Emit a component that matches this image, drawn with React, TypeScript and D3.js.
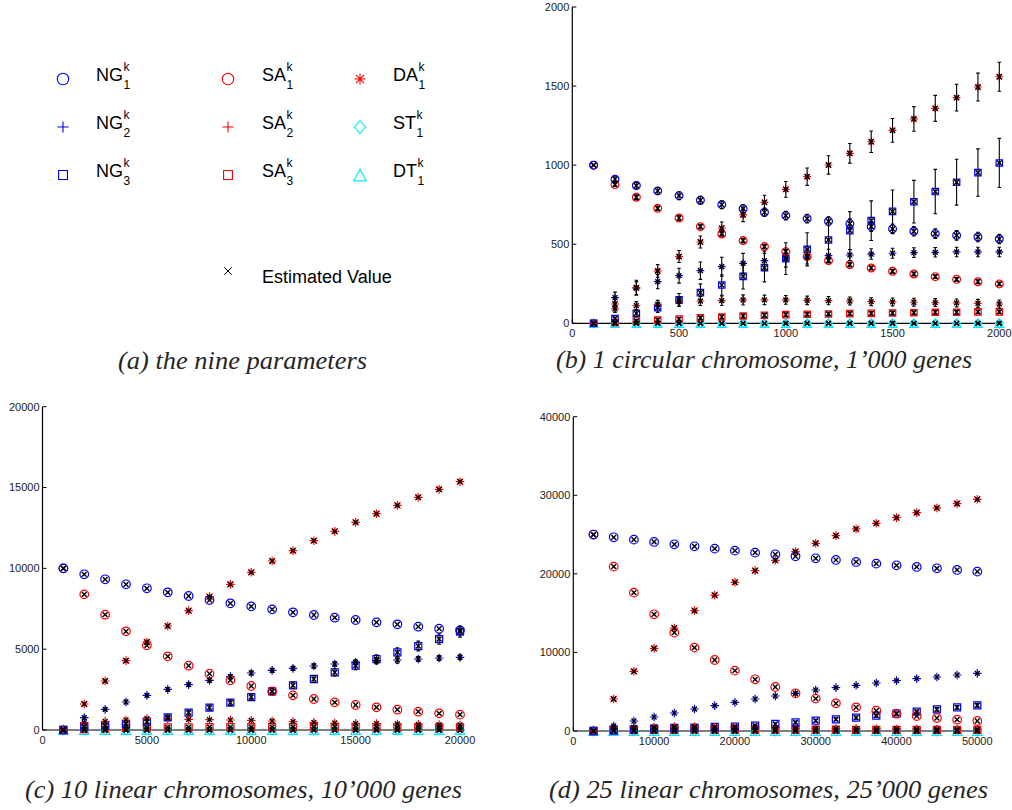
import React from 'react';
import * as d3 from 'd3';

// ---------------- DATA ----------------
const SERIES_KEYS = ['NG1', 'NG2', 'NG3', 'SA1', 'SA2', 'SA3', 'DA1', 'ST1', 'DT1'];

// (b) 1 circular chromosome, 1'000 genes
const B_X = [100, 200, 300, 400, 500, 600, 700, 800, 900, 1000, 1100, 1200, 1300, 1400, 1500, 1600, 1700, 1800, 1900, 2000];
const B_NG1 = [1000, 911, 871, 837, 807, 778, 750, 725, 702, 681, 662, 645, 630, 611, 597, 582, 567, 556, 546, 533];
const B_NG2 = [0, 162, 222, 263, 301, 333, 358, 379, 396, 410, 420, 428, 432, 438, 443, 447, 449, 451, 451, 451];
const B_NG3 = [0, 30, 63, 99, 148, 194, 242, 297, 352, 409, 468, 527, 586, 649, 708, 769, 833, 892, 953, 1014];
const B_SA1 = [1000, 877, 797, 727, 666, 611, 565, 523, 485, 453, 422, 396, 371, 350, 329, 312, 295, 278, 263, 249];
const B_SA2 = [0, 91, 112, 120, 137, 141, 143, 148, 148, 148, 145, 143, 141, 137, 135, 133, 131, 129, 126, 122];
const B_SA3 = [0, 5, 15, 21, 27, 34, 40, 46, 51, 55, 57, 59, 61, 63, 65, 67, 70, 70, 72, 72];
const B_DA1 = [0, 122, 225, 331, 422, 514, 601, 685, 765, 847, 927, 1001, 1075, 1148, 1220, 1292, 1359, 1427, 1494, 1559];
const B_ST1 = [0, 0, 0, 0, 0, 0, 0, 0, 0, 0, 0, 0, 0, 0, 0, 0, 0, 0, 0, 0];
const B_DT1 = [0, 0, 0, 0, 0, 0, 0, 0, 0, 0, 0, 0, 0, 0, 0, 0, 0, 0, 0, 0];
// error bar half-lengths (b)
const B_ERR_NG1 = [0, 15, 20, 22, 25, 25, 25, 25, 27, 27, 28, 28, 30, 30, 30, 30, 30, 30, 30, 30];
const B_ERR_NG2 = [0, 35, 40, 45, 47, 55, 60, 63, 60, 55, 45, 40, 35, 33, 32, 31, 30, 30, 30, 30];
const B_ERR_NG3 = [0, 10, 20, 30, 40, 55, 65, 80, 90, 100, 105, 110, 120, 125, 135, 135, 140, 145, 150, 155];
const B_ERR_SA1 = [0, 12, 15, 15, 15, 15, 15, 15, 15, 15, 15, 15, 15, 12, 12, 12, 12, 12, 12, 12];
const B_ERR_SA2 = [0, 22, 25, 25, 28, 28, 30, 32, 30, 28, 27, 26, 25, 25, 25, 25, 25, 25, 25, 25];
const B_ERR_SA3 = [0, 5, 8, 10, 10, 12, 12, 12, 12, 12, 12, 12, 12, 12, 12, 12, 12, 12, 12, 12];
const B_ERR_DA1 = [0, 30, 47, 40, 38, 38, 40, 42, 45, 50, 55, 58, 62, 68, 75, 78, 82, 85, 88, 92];

// (c) 10 linear chromosomes, 10'000 genes
const C_X = [1000, 2000, 3000, 4000, 5000, 6000, 7000, 8000, 9000, 10000, 11000, 12000, 13000, 14000, 15000, 16000, 17000, 18000, 19000, 20000];
const C_NG1 = [10000, 9632, 9322, 9013, 8766, 8516, 8289, 8042, 7836, 7650, 7464, 7279, 7114, 6949, 6805, 6660, 6537, 6392, 6268, 6165];
const C_NG2 = [0, 763, 1278, 1732, 2144, 2516, 2804, 3072, 3299, 3526, 3691, 3815, 3959, 4083, 4186, 4289, 4330, 4392, 4454, 4495];
const C_NG3 = [0, 206, 289, 371, 516, 784, 1072, 1382, 1691, 2041, 2392, 2763, 3155, 3567, 3980, 4392, 4804, 5196, 5629, 6083];
const C_SA1 = [10000, 8392, 7135, 6104, 5237, 4557, 3980, 3485, 3072, 2722, 2392, 2144, 1918, 1711, 1547, 1402, 1258, 1134, 1031, 949];
const C_SA2 = [0, 454, 536, 619, 701, 701, 660, 639, 619, 598, 557, 516, 474, 433, 412, 392, 371, 351, 330, 309];
const C_SA3 = [0, 60, 100, 130, 150, 160, 170, 175, 180, 180, 180, 180, 175, 175, 170, 170, 165, 165, 160, 160];
const C_DA1 = [0, 1608, 3031, 4289, 5444, 6433, 7382, 8248, 9011, 9755, 10455, 11093, 11712, 12290, 12847, 13382, 13897, 14392, 14887, 15360];
const C_ST1 = [0, 0, 0, 0, 0, 0, 0, 0, 0, 0, 0, 0, 0, 0, 0, 0, 0, 0, 0, 0];
const C_DT1 = [0, 0, 0, 0, 0, 0, 0, 0, 0, 0, 0, 0, 0, 0, 0, 0, 0, 0, 0, 0];
const C_ERR_NG2 = [0, 80, 90, 100, 100, 110, 110, 120, 120, 120, 120, 130, 130, 140, 150, 200, 200, 150, 150, 150];
const C_ERR_NG3 = [0, 60, 80, 100, 120, 140, 150, 160, 170, 180, 190, 200, 210, 230, 250, 260, 280, 300, 320, 340];

// (d) 25 linear chromosomes, 25'000 genes
const D_X = [2500, 5000, 7500, 10000, 12500, 15000, 17500, 20000, 22500, 25000, 27500, 30000, 32500, 35000, 37500, 40000, 42500, 45000, 47500, 50000];
const D_NG1 = [25000, 24652, 24355, 24058, 23761, 23506, 23209, 22955, 22700, 22488, 22233, 21979, 21766, 21512, 21300, 21088, 20876, 20706, 20494, 20282];
const D_NG2 = [0, 636, 1273, 1782, 2291, 2800, 3225, 3649, 4073, 4455, 4795, 5219, 5516, 5813, 6110, 6407, 6661, 6874, 7128, 7340];
const D_NG3 = [0, 85, 212, 297, 382, 424, 509, 552, 679, 891, 1103, 1315, 1485, 1697, 1952, 2206, 2461, 2758, 3013, 3267];
const D_SA1 = [25000, 20918, 17608, 14850, 12517, 10608, 9038, 7680, 6577, 5601, 4795, 4116, 3522, 3013, 2588, 2206, 1909, 1655, 1443, 1273];
const D_SA2 = [0, 424, 467, 509, 552, 552, 509, 470, 430, 400, 370, 340, 320, 300, 280, 260, 240, 230, 220, 210];
const D_SA3 = [0, 60, 100, 130, 150, 160, 170, 170, 170, 170, 165, 160, 160, 155, 150, 150, 145, 140, 140, 135];
const D_DA1 = [0, 4073, 7595, 10523, 13111, 15318, 17290, 18924, 20409, 21724, 22827, 23888, 24864, 25713, 26434, 27156, 27792, 28386, 28938, 29489];
const D_ST1 = [0, 0, 0, 0, 0, 0, 0, 0, 0, 0, 0, 0, 0, 0, 0, 0, 0, 0, 0, 0];
const D_DT1 = [0, 0, 0, 0, 0, 0, 0, 0, 0, 0, 0, 0, 0, 0, 0, 0, 0, 0, 0, 0];
const D_ERR_NG3 = [0, 40, 60, 80, 90, 100, 110, 120, 130, 150, 160, 170, 180, 190, 200, 210, 220, 230, 240, 250];

// tick values
const B_XTICKS = [0, 500, 1000, 1500, 2000];
const B_YTICKS = [0, 500, 1000, 1500, 2000];
const C_XTICKS = [0, 5000, 10000, 15000, 20000];
const C_YTICKS = [0, 5000, 10000, 15000, 20000];
const D_XTICKS = [0, 10000, 20000, 30000, 40000, 50000];
const D_YTICKS = [0, 10000, 20000, 30000, 40000];

// legend
const LEGEND_COLUMNS = [
  [{ key: 'NG1', base: 'NG', sub: '1' }, { key: 'NG2', base: 'NG', sub: '2' }, { key: 'NG3', base: 'NG', sub: '3' }],
  [{ key: 'SA1', base: 'SA', sub: '1' }, { key: 'SA2', base: 'SA', sub: '2' }, { key: 'SA3', base: 'SA', sub: '3' }],
  [{ key: 'DA1', base: 'DA', sub: '1' }, { key: 'ST1', base: 'ST', sub: '1' }, { key: 'DT1', base: 'DT', sub: '1' }],
];
const ESTIMATE_LABEL = 'Estimated Value';

const CAPTIONS = [
  '(a) the nine parameters',
  '(b) 1 circular chromosome, 1\u2019000 genes',
  '(c) 10 linear chromosomes, 10\u2019000 genes',
  '(d) 25 linear chromosomes, 25\u2019000 genes',
];

// ---------------- STYLES ----------------
const BLUE = '#0000ff';
const RED = '#ff0000';
const CYAN = '#00e5ff';
const STYLE: Record<string, { m: string; c: string }> = {
  NG1: { m: 'circle', c: BLUE },
  NG2: { m: 'plus', c: BLUE },
  NG3: { m: 'square', c: BLUE },
  SA1: { m: 'circle', c: RED },
  SA2: { m: 'plus', c: RED },
  SA3: { m: 'square', c: RED },
  DA1: { m: 'asterisk', c: RED },
  ST1: { m: 'diamond', c: CYAN },
  DT1: { m: 'triangle', c: CYAN },
};

function markerPath(m: string, s: number): string {
  switch (m) {
    case 'circle': {
      const p = d3.path();
      p.moveTo(s, 0);
      p.arc(0, 0, s, 0, Math.PI * 2);
      return p.toString();
    }
    case 'plus':
      return `M${-s},0H${s}M0,${-s}V${s}`;
    case 'square': {
      const h = s * 0.82;
      return `M${-h},${-h}H${h}V${h}H${-h}Z`;
    }
    case 'asterisk': {
      const d = s * 0.72;
      return `M${-s},0H${s}M0,${-s}V${s}M${-d},${-d}L${d},${d}M${-d},${d}L${d},${-d}`;
    }
    case 'diamond': {
      const w = s * 1.0, h = s * 1.15;
      return `M0,${-h}L${w},0L0,${h}L${-w},0Z`;
    }
    case 'triangle': {
      const w = s * 1.1, h = s * 1.05;
      return `M0,${-h}L${w},${h}L${-w},${h}Z`;
    }
    case 'x':
      return `M${-s},${-s}L${s},${s}M${-s},${s}L${s},${-s}`;
  }
  return '';
}

// ---------------- PANELS ----------------
const PANELS = [
  {
    id: 'b', xr: [572.3, 999.3], yr: [323.3, 7], xd: [0, 2000], yd: [0, 2000], ms: 3.9,
    xTicks: B_XTICKS, yTicks: B_YTICKS, xs: B_X,
    series: { NG1: B_NG1, NG2: B_NG2, NG3: B_NG3, SA1: B_SA1, SA2: B_SA2, SA3: B_SA3, DA1: B_DA1, ST1: B_ST1, DT1: B_DT1 } as Record<string, number[]>,
    errs: { NG1: B_ERR_NG1, NG2: B_ERR_NG2, NG3: B_ERR_NG3, SA1: B_ERR_SA1, SA2: B_ERR_SA2, SA3: B_ERR_SA3, DA1: B_ERR_DA1 } as Record<string, number[]>,
  },
  {
    id: 'c', xr: [42.5, 460], yr: [730, 406.7], xd: [0, 20000], yd: [0, 20000], ms: 4.3,
    xTicks: C_XTICKS, yTicks: C_YTICKS, xs: C_X,
    series: { NG1: C_NG1, NG2: C_NG2, NG3: C_NG3, SA1: C_SA1, SA2: C_SA2, SA3: C_SA3, DA1: C_DA1, ST1: C_ST1, DT1: C_DT1 } as Record<string, number[]>,
    errs: { NG2: C_ERR_NG2, NG3: C_ERR_NG3 } as Record<string, number[]>,
  },
  {
    id: 'd', xr: [573.3, 977.3], yr: [731, 416.7], xd: [0, 50000], yd: [0, 40000], ms: 4.3,
    xTicks: D_XTICKS, yTicks: D_YTICKS, xs: D_X,
    series: { NG1: D_NG1, NG2: D_NG2, NG3: D_NG3, SA1: D_SA1, SA2: D_SA2, SA3: D_SA3, DA1: D_DA1, ST1: D_ST1, DT1: D_DT1 } as Record<string, number[]>,
    errs: { NG3: D_ERR_NG3 } as Record<string, number[]>,
  },
];

const TICK_FONT = '"Liberation Sans", Arial, Helvetica, sans-serif';

function Panel({ p }: { p: any }) {
  const x = d3.scaleLinear().domain(p.xd).range(p.xr);
  const y = d3.scaleLinear().domain(p.yd).range(p.yr);
  const x0 = x(0), y0 = y(0);
  const drawOrder = ['DT1', 'ST1', 'SA3', 'NG3', 'SA2', 'NG2', 'DA1', 'SA1', 'NG1'];
  return (
    <g>
      {/* axes */}
      <line x1={x0} x2={x(p.xd[1])} y1={y0} y2={y0} stroke="#000" strokeWidth={1.2} />
      <line x1={x0} x2={x0} y1={y0} y2={y(p.yd[1])} stroke="#000" strokeWidth={1.2} />
      {p.yTicks.map((t: number) => (
        <g key={'yt' + t}>
          <line x1={x0} x2={x0 + 4} y1={y(t)} y2={y(t)} stroke="#000" strokeWidth={1} />
          <text x={x0 - 3} y={y(t)} dy="0.35em" textAnchor="end" fontFamily={TICK_FONT} fontSize={11} fill="#222">{t}</text>
        </g>
      ))}
      {p.xTicks.map((t: number) => (
        <g key={'xt' + t}>
          <line x1={x(t)} x2={x(t)} y1={y0} y2={y0 - 4} stroke="#000" strokeWidth={1} />
          <text x={x(t)} y={y0 + 14} textAnchor="middle" fontFamily={TICK_FONT} fontSize={11} fill="#222">{t}</text>
        </g>
      ))}
      {/* colored markers */}
      {drawOrder.map((k) => (
        <g key={'s' + k} fill="none" stroke={STYLE[k].c} strokeWidth={1.2}>
          {p.series[k].map((v: number, i: number) => (
            <path key={i} d={markerPath(STYLE[k].m, p.ms)} transform={`translate(${x(p.xs[i])},${y(v)})`} />
          ))}
        </g>
      ))}
      {/* error bars */}
      {SERIES_KEYS.filter((k) => p.errs[k]).map((k) => (
        <g key={'e' + k} stroke="#000" strokeWidth={1.1}>
          {p.errs[k].map((e: number, i: number) => {
            if (!e) return null;
            const cx = x(p.xs[i]);
            const v = p.series[k][i];
            const ya = y(v + e), yb = y(v - e);
            return (
              <path key={i} d={`M${cx},${ya}V${yb}M${cx - 1.8},${ya}H${cx + 1.8}M${cx - 1.8},${yb}H${cx + 1.8}`} />
            );
          })}
        </g>
      ))}
      {/* estimated values */}
      {SERIES_KEYS.map((k) => (
        <g key={'x' + k} stroke="#000" strokeWidth={1.4} fill="none">
          {p.series[k].map((v: number, i: number) => (
            <path key={i} d={markerPath('x', 2.4)} transform={`translate(${x(p.xs[i])},${y(v)})`} />
          ))}
        </g>
      ))}
    </g>
  );
}

let measureCtx: CanvasRenderingContext2D | null = null;
function measure(text: string, font: string): number {
  if (!measureCtx) measureCtx = document.createElement('canvas').getContext('2d');
  if (!measureCtx) return text.length * 10;
  measureCtx.font = font;
  return measureCtx.measureText(text).width;
}

function Legend() {
  const colX = [63, 228, 360];
  const labelX = [96, 262, 393];
  const rowY = [79, 127, 175];
  const fs = 18;
  return (
    <g>
      {LEGEND_COLUMNS.map((col, ci) =>
        col.map((it, ri) => {
          const st = STYLE[it.key];
          const w = measure(it.base, `${fs}px "Liberation Sans"`);
          const base = rowY[ri] + 2;
          return (
            <g key={it.key}>
              <path d={markerPath(st.m, st.m === 'circle' ? 5.7 : st.m === 'square' ? 5.4 : 5.6)} transform={`translate(${colX[ci]},${rowY[ri]})`} fill="none" stroke={st.c} strokeWidth={1.1} />
              <text x={labelX[ci]} y={base} fontFamily={TICK_FONT} fontSize={fs} fill="#000">{it.base}</text>
              <text x={labelX[ci] + w + 0.5} y={base - 10} fontFamily={TICK_FONT} fontSize={12} fill="#000">k</text>
              <text x={labelX[ci] + w + 0.5} y={base + 8} fontFamily={TICK_FONT} fontSize={12} fill="#000">{it.sub}</text>
            </g>
          );
        })
      )}
      <path d={markerPath('x', 3.8)} transform="translate(228,271)" stroke="#000" strokeWidth={1} fill="none" />
      <text x={262} y={283} fontFamily={TICK_FONT} fontSize={fs} fill="#000">{ESTIMATE_LABEL}</text>
    </g>
  );
}

const CAPTION_POS = [
  { x: 118, y: 369, w: 249 },
  { x: 556, y: 368, w: 416 },
  { x: 25, y: 798, w: 437 },
  { x: 549, y: 798, w: 439 },
];

export default function App() {
  return (
    <svg width={1012} height={810} style={{ display: 'block', position: 'absolute', left: 0, top: 0, background: '#fff' }}>
      <rect width={1012} height={810} fill="#fff" />
      <Legend />
      {PANELS.map((p) => (
        <Panel key={p.id} p={p} />
      ))}
      {CAPTIONS.map((c, i) => (
        <text key={i} x={CAPTION_POS[i].x} y={CAPTION_POS[i].y} textLength={CAPTION_POS[i].w} lengthAdjust="spacingAndGlyphs"
          fontFamily='"Liberation Serif", "Times New Roman", serif' fontStyle="italic" fontSize={25} fill="#262626">{c}</text>
      ))}
    </svg>
  );
}
